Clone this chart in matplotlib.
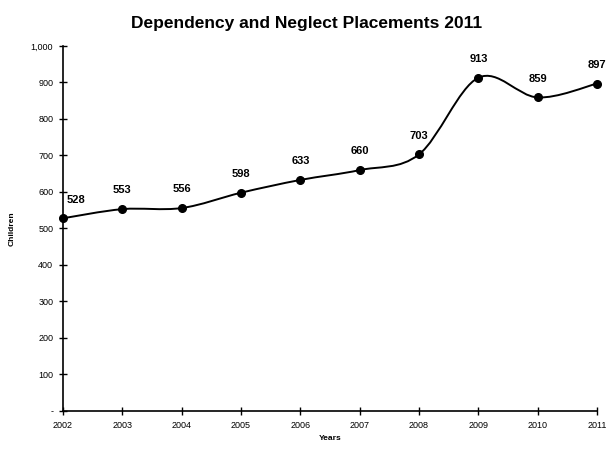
import numpy as np
import matplotlib
matplotlib.use('Agg')
import matplotlib.pyplot as plt
from matplotlib.path import Path
from matplotlib.patches import PathPatch
from matplotlib.ticker import FuncFormatter

plt.rcParams['font.family'] = ['Liberation Sans', 'DejaVu Sans']

# ── data ─────────────────────────────────────────────────────────────────────

years = [2002, 2003, 2004, 2005, 2006, 2007, 2008, 2009, 2010, 2011]
children = [528, 553, 556, 598, 633, 660, 703, 913, 859, 897]

# ── smoothed line (Excel style, Catmull-Rom as cubic Bezier) ─────────────────

x = np.array(years, dtype=float)
y = np.array(children, dtype=float)
verts = [(x[0], y[0])]
codes = [Path.MOVETO]
n = len(x)
for i in range(n - 1):
    x0, y0 = (x[i - 1], y[i - 1]) if i > 0 else (x[i], y[i])
    x3, y3 = (x[i + 2], y[i + 2]) if i + 2 < n else (x[i + 1], y[i + 1])
    c1 = (x[i] + (x[i + 1] - x0) / 6, y[i] + (y[i + 1] - y0) / 6)
    c2 = (x[i + 1] - (x3 - x[i]) / 6, y[i + 1] - (y3 - y[i]) / 6)
    verts += [c1, c2, (x[i + 1], y[i + 1])]
    codes += [Path.CURVE4] * 3

fig = plt.figure(figsize=(6.13, 4.5), dpi=100)
ax = fig.add_axes([0.1028, 0.0867, 0.8711, 0.8111])

ax.add_patch(PathPatch(Path(verts, codes), facecolor='none',
                       edgecolor='black', linewidth=1.4, clip_on=False))
ax.plot(years, children, 'o', color='black', markersize=5.5, zorder=3,
        clip_on=False)

for i, (xx, yy) in enumerate(zip(years, children)):
    dx = 9 if i == 0 else 0
    ax.annotate(f'{yy}', (xx, yy), xytext=(dx, 13.5), textcoords='offset points',
                ha='center', va='center', fontsize=8, fontweight='bold')

ax.set_xlim(2002, 2011)
ax.set_ylim(0, 1000)
ax.set_xticks(years)
ax.set_yticks(range(0, 1001, 100))
ax.yaxis.set_major_formatter(FuncFormatter(lambda v, p: '-' if v == 0 else f'{int(v):,}'))
ax.tick_params(direction='inout', length=6, width=1, labelsize=6.5, pad=4)

for s in ['top', 'right']:
    ax.spines[s].set_visible(False)
for s in ['left', 'bottom']:
    ax.spines[s].set_linewidth(1.2)

ax.set_xlabel('Years', fontsize=6, fontweight='bold', labelpad=4)
ax.set_ylabel('Children', fontsize=6, fontweight='bold', labelpad=11)
fig.suptitle('Dependency and Neglect Placements 2011', fontsize=12.5,
             fontweight='bold', y=0.965)

fig.savefig('out.png', dpi=100)
